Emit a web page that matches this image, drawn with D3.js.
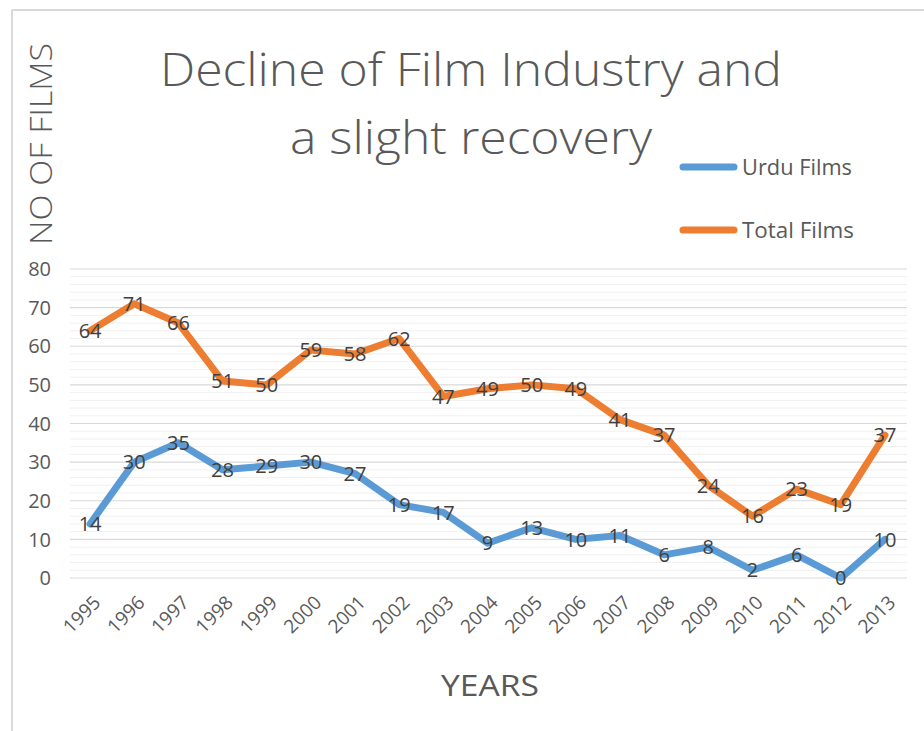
<!DOCTYPE html>
<html>
<head>
<meta charset="utf-8">
<title>Decline of Film Industry</title>
<script src="https://cdn.jsdelivr.net/npm/d3@7"></script>
<style>
    body { margin: 0; background: #fff; font-family: "Open Sans", "Noto Sans", sans-serif; }
</style>
</head>
<body>
<div id="chart"></div>
<script>
var years = ["1995","1996","1997","1998","1999","2000","2001","2002","2003","2004",
             "2005","2006","2007","2008","2009","2010","2011","2012","2013"];
var urduFilms  = [14,30,35,28,29,30,27,19,17,9,13,10,11,6,8,2,6,0,10];
var totalFilms = [64,71,66,51,50,59,58,62,47,49,50,49,41,37,24,16,23,19,37];
var yTicks = [0,10,20,30,40,50,60,70,80];

var W = 924, H = 731;
var svg = d3.select("#chart").append("svg").attr("width", W).attr("height", H);

// chart frame
svg.append("line").attr("x1", 12).attr("x2", 12).attr("y1", 10).attr("y2", H)
    .attr("stroke", "#d9d9d9").attr("stroke-width", 2);
svg.append("line").attr("x1", 12).attr("x2", W).attr("y1", 10).attr("y2", 10)
    .attr("stroke", "#d9d9d9").attr("stroke-width", 2);

var x = d3.scaleBand().domain(years).range([68, 907]);
var y = d3.scaleLinear().domain([0, 80]).range([578, 269]);

// minor gridlines
svg.append("g").selectAll("line")
    .data(d3.range(0, 81, 2).filter(function(v){ return v % 10 != 0; }))
    .enter().append("line")
    .attr("x1", 70).attr("x2", 907)
    .attr("y1", function(d){ return y(d); }).attr("y2", function(d){ return y(d); })
    .attr("stroke", "#f0f0f0").attr("stroke-width", 1);

// major gridlines
svg.append("g").selectAll("line")
    .data(yTicks).enter().append("line")
    .attr("x1", 70).attr("x2", 907)
    .attr("y1", function(d){ return y(d); }).attr("y2", function(d){ return y(d); })
    .attr("stroke", "#d9d9d9").attr("stroke-width", 1.2);

// y tick labels
svg.append("g").selectAll("text")
    .data(yTicks).enter().append("text")
    .attr("x", 51).attr("y", function(d){ return y(d); })
    .attr("dy", "0.36em").attr("text-anchor", "end")
    .attr("font-size", 20).attr("fill", "#595959")
    .text(function(d){ return d; });

// x tick labels
svg.append("g").selectAll("text")
    .data(years).enter().append("text")
    .attr("transform", function(d){
        return "translate(" + (x(d) + x.bandwidth() / 2 + 7) + ",599) rotate(-45)";
    })
    .attr("text-anchor", "end").attr("dy", "0.35em")
    .attr("font-size", 19).attr("fill", "#595959")
    .text(function(d){ return d; });

// lines
var line = d3.line()
    .x(function(d, i){ return x(years[i]) + x.bandwidth() / 2; })
    .y(function(d){ return y(d); });

var series = [
    { name: "Urdu Films", values: urduFilms, color: "#5b9bd5" },
    { name: "Total Films", values: totalFilms, color: "#ed7d31" }
];

series.forEach(function(s){
    svg.append("path").datum(s.values)
        .attr("d", line).attr("fill", "none")
        .attr("stroke", s.color).attr("stroke-width", 7)
        .attr("stroke-linejoin", "round").attr("stroke-linecap", "round");
});

// data labels
series.forEach(function(s){
    svg.append("g").selectAll("text")
        .data(s.values).enter().append("text")
        .attr("x", function(d, i){ return x(years[i]) + x.bandwidth() / 2; })
        .attr("y", function(d){ return y(d); })
        .attr("dy", "0.36em").attr("text-anchor", "middle")
        .attr("font-size", 20).attr("fill", "#404040")
        .text(function(d){ return d; });
});

// title
svg.append("text").attr("x", 471).attr("y", 86)
    .attr("text-anchor", "middle").attr("font-size", 46).attr("font-weight", 300)
    .attr("fill", "#595959").attr("textLength", 622).attr("lengthAdjust", "spacingAndGlyphs")
    .text("Decline of Film Industry and");
svg.append("text").attr("x", 471).attr("y", 154)
    .attr("text-anchor", "middle").attr("font-size", 46).attr("font-weight", 300)
    .attr("fill", "#595959").attr("textLength", 362).attr("lengthAdjust", "spacingAndGlyphs")
    .text("a slight recovery");

// y axis title
svg.append("text").attr("transform", "translate(52,144) rotate(-90)")
    .attr("text-anchor", "middle").attr("font-size", 32).attr("font-weight", 300)
    .attr("fill", "#595959").attr("textLength", 202).attr("lengthAdjust", "spacingAndGlyphs")
    .text("NO OF FILMS");

// x axis title
svg.append("text").attr("x", 490).attr("y", 696)
    .attr("text-anchor", "middle").attr("font-size", 30)
    .attr("fill", "#595959").attr("textLength", 98).attr("lengthAdjust", "spacingAndGlyphs")
    .text("YEARS");

// legend
var legend = svg.append("g").selectAll("g")
    .data(series).enter().append("g")
    .attr("transform", function(d, i){ return "translate(683," + (167 + i * 63) + ")"; });
legend.append("line").attr("x1", 0).attr("x2", 51)
    .attr("stroke", function(d){ return d.color; })
    .attr("stroke-width", 7).attr("stroke-linecap", "round");
legend.append("text").attr("x", 59).attr("dy", "0.36em")
    .attr("font-size", 21).attr("fill", "#595959")
    .attr("textLength", function(d){ return d.name == "Urdu Films" ? 110 : 112; })
    .attr("lengthAdjust", "spacingAndGlyphs")
    .text(function(d){ return d.name; });
</script>
</body>
</html>
